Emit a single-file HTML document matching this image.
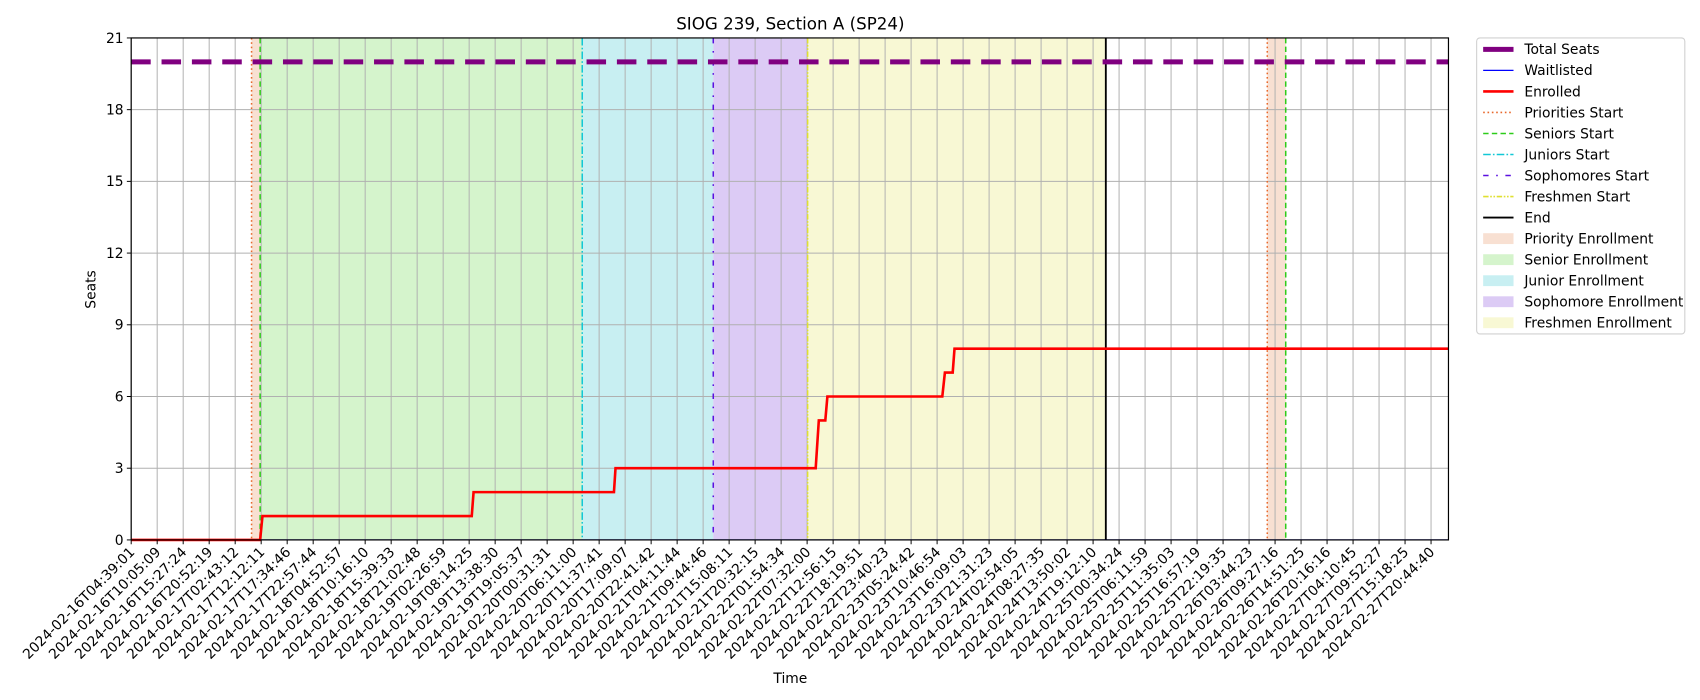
<!DOCTYPE html>
<html><head><meta charset="utf-8">
<style>
html,body{margin:0;padding:0;background:#fff;}
svg{display:block;font-family:"DejaVu Sans","Liberation Sans",sans-serif;}
</style></head>
<body>
<svg id="root" width="1700" height="700" viewBox="0 0 1700 700" xmlns="http://www.w3.org/2000/svg">
<rect width="1700" height="700" fill="#fff"/>
<g id="chart" transform="scale(1.08418)">
<g id="plot"></g>
<text x="729" y="27" font-size="15.4" text-anchor="middle">SIOG 239, Section A (SP24)</text>
<text x="729" y="630" font-size="12.8" text-anchor="middle">Time</text>
<text x="0" y="0" font-size="12.8" text-anchor="middle" transform="translate(88,267) rotate(-90)">Seats</text>
<g id="legend"></g>
</g>
</svg>
<script>
const tickLabels=["2024-02-16T04:39:01","2024-02-16T10:05:09","2024-02-16T15:27:24","2024-02-16T20:52:19","2024-02-17T02:43:12","2024-02-17T12:12:11","2024-02-17T17:34:46","2024-02-17T22:57:44","2024-02-18T04:52:57","2024-02-18T10:16:10","2024-02-18T15:39:33","2024-02-18T21:02:48","2024-02-19T02:26:59","2024-02-19T08:14:25","2024-02-19T13:38:30","2024-02-19T19:05:37","2024-02-20T00:31:31","2024-02-20T06:11:00","2024-02-20T11:37:41","2024-02-20T17:09:07","2024-02-20T22:41:42","2024-02-21T04:11:44","2024-02-21T09:44:46","2024-02-21T15:08:11","2024-02-21T20:32:15","2024-02-22T01:54:34","2024-02-22T07:32:00","2024-02-22T12:56:15","2024-02-22T18:19:51","2024-02-22T23:40:23","2024-02-23T05:24:42","2024-02-23T10:46:54","2024-02-23T16:09:03","2024-02-23T21:31:23","2024-02-24T02:54:05","2024-02-24T08:27:35","2024-02-24T13:50:02","2024-02-24T19:12:10","2024-02-25T00:34:24","2024-02-25T06:11:59","2024-02-25T11:35:03","2024-02-25T16:57:19","2024-02-25T22:19:35","2024-02-26T03:44:23","2024-02-26T09:27:16","2024-02-26T14:51:25","2024-02-26T20:16:16","2024-02-27T04:10:45","2024-02-27T09:52:27","2024-02-27T15:18:25","2024-02-27T20:44:40"];
const yTicks=[0,3,6,9,12,15,18,21];
const enrolledT=[0,4.96,5.05,13.1,13.17,18.57,18.63,26.33,26.45,26.7,26.78,31.2,31.3,31.6,31.67,50.67];
const enrolledV=[0,0,1,1,2,2,3,3,5,5,6,6,7,7,8,8];
const waitlistT=[0,50.67];
const waitlistV=[0,0];
const totalSeats=20;
const spanNames=["priority-span","senior-span","junior-span","sophomore-span","freshmen-span","priority-span-2"];
const spanStart=[4.63,4.96,17.35,22.39,26.02,43.7];
const spanEnd=[4.96,17.35,22.39,26.02,37.49,44.41];
const spanColors=["#f4cbb4","#b9edaa","#a3e5ea","#c4a9ee","#f3f3b8","#f4cbb4"];
const eventNames=["priorities-start","seniors-start","juniors-start","sophomores-start","freshmen-start","end-line","priorities-start-2","seniors-start-2"];
const eventT=[4.63,4.96,17.35,22.39,26.02,37.49,43.7,44.41];
const eventStyle=[0,1,2,3,4,5,0,1];

const L=121,R=1336,T=35,B=498,XMAX=50.67,YMAX=21;
const sx=t=>L+t/XMAX*(R-L);
const sy=v=>B-v/YMAX*(B-T);
const NS="http://www.w3.org/2000/svg";
function mk(tag,attrs,parent){const e=document.createElementNS(NS,tag);for(const k in attrs)e.setAttribute(k,attrs[k]);parent.appendChild(e);return e;}
const plot=document.getElementById('plot');
const svg=document.getElementById('chart');
const styles=[
 {c:"#e8692c",d:"1.5,2.5",w:1.4},
 {c:"#2ecc1a",d:"5,3",w:1.4},
 {c:"#12c8d6",d:"7,2,1.5,2",w:1.4},
 {c:"#5b10e0",d:"5,7,1.5,7",w:1.4},
 {c:"#e0e030",d:"5,1.5,1.5,1.5,1.5,1.5",w:1.4},
 {c:"#000",d:"",w:1.7}];
spanStart.forEach((s,i)=>{
 const r=mk('rect',{x:sx(s),y:T,width:sx(spanEnd[i])-sx(s),height:B-T,fill:spanColors[i],opacity:0.6},plot);
 
 
});
tickLabels.forEach((lab,i)=>{
 const x=sx(i);
 const g=mk('line',{x1:x,x2:x,y1:T,y2:B,stroke:"#b0b0b0","stroke-width":0.9},plot);
 
 
 const tk=mk('line',{x1:x,x2:x,y1:B,y2:B+4,stroke:"#000","stroke-width":0.9},svg);
 
 
 const t=mk('text',{x:0,y:0,"font-size":12.8,"text-anchor":"end",transform:`translate(${x+4},${B+12}) rotate(-45)`},svg);
 t.textContent=lab;
 
 
});
yTicks.forEach(v=>{
 const y=sy(v);
 const g=mk('line',{x1:L,x2:R,y1:y,y2:y,stroke:"#b0b0b0","stroke-width":0.9},plot);
 
 
 const tk=mk('line',{x1:L-4,x2:L,y1:y,y2:y,stroke:"#000","stroke-width":0.9},svg);
 
 
 const t=mk('text',{x:L-7,y:y+4.5,"font-size":12.8,"text-anchor":"end"},svg);
 t.textContent=v;
 
 
});
eventT.forEach((t,i)=>{
 const s=styles[eventStyle[i]];
 const l=mk('line',{x1:sx(t),x2:sx(t),y1:T,y2:B,stroke:s.c,"stroke-width":s.w,"stroke-dasharray":s.d},plot);
 
 
});
const ts=mk('line',{x1:L,x2:R,y1:sy(totalSeats),y2:sy(totalSeats),stroke:"#800080","stroke-width":4.6,"stroke-dasharray":"18,10"},plot);


const wl=mk('polyline',{points:waitlistT.map((t,i)=>sx(t)+","+sy(waitlistV[i])).join(" "),fill:"none",stroke:"#0000ff","stroke-width":1.1},plot);


const en=mk('polyline',{points:enrolledT.map((t,i)=>sx(t)+","+sy(enrolledV[i])).join(" "),fill:"none",stroke:"#ff0000","stroke-width":2.4},plot);


const fr=mk('rect',{x:L,y:T,width:R-L,height:B-T,fill:"none",stroke:"#000","stroke-width":1.1},svg);



const leg=document.getElementById('legend');
mk('rect',{x:1362,y:35,width:192,height:273,rx:3,fill:"#fff",stroke:"#d0d0d0"},leg);
const legItems=[
 ["Total Seats","line","#800080",4.6,""],
 ["Waitlisted","line","#0000ff",1.1,""],
 ["Enrolled","line","#ff0000",2.4,""],
 ["Priorities Start","line","#e8692c",1.4,"1.5,2.5"],
 ["Seniors Start","line","#2ecc1a",1.4,"5,3"],
 ["Juniors Start","line","#12c8d6",1.4,"7,2,1.5,2"],
 ["Sophomores Start","line","#5b10e0",1.4,"5,7,1.5,7"],
 ["Freshmen Start","line","#e0e030",1.4,"5,1.5,1.5,1.5,1.5,1.5"],
 ["End","line","#000",1.7,""],
 ["Priority Enrollment","box","#f4cbb4"],
 ["Senior Enrollment","box","#b9edaa"],
 ["Junior Enrollment","box","#a3e5ea"],
 ["Sophomore Enrollment","box","#c4a9ee"],
 ["Freshmen Enrollment","box","#f3f3b8"]];
legItems.forEach((it,i)=>{
 const y=45.5+i*19.4;
 const g=mk('g',{},leg);
 
 
 if(it[1]==="line") mk('line',{x1:1368,x2:1396,y1:y,y2:y,stroke:it[2],"stroke-width":it[3],"stroke-dasharray":it[4]},g);
 else mk('rect',{x:1368,y:y-5,width:28,height:10,fill:it[2],opacity:0.6},g);
 const t=mk('text',{x:1406,y:y+4.5,"font-size":12.8},g);
 t.textContent=it[0];
});
</script>
</body></html>
